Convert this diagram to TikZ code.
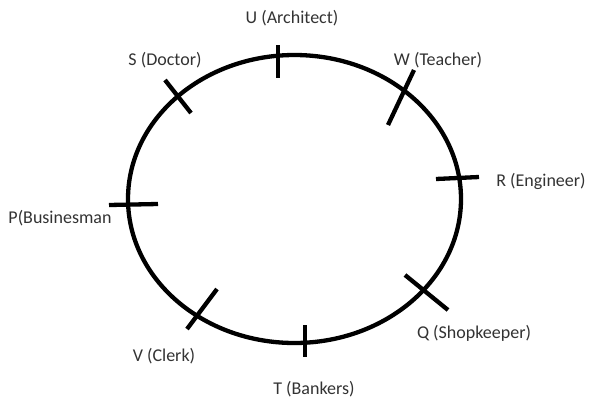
\documentclass[tikz,border=0pt]{standalone}
\usepackage{fontspec}
\setmainfont{Carlito}
\begin{document}
\begin{tikzpicture}[x=1pt,y=-1pt,
  ring/.style={line width=4.3pt},
  tick/.style={line width=4.3pt},
  lbl/.style={font=\fontsize{18}{20}\selectfont, text=black!80, inner sep=0pt}]
\useasboundingbox[fill=white] (0,0) rectangle (589,400);
\draw[ring] (294.5,199) ellipse [x radius=166.5, y radius=144];
% ticks
\draw[tick] (278,45) -- (278,78);
\draw[tick] (165,80) -- (191,113);
\draw[tick] (414,70) -- (388,125);
\draw[tick] (436,179) -- (479,177);
\draw[tick] (405,275) -- (448,310);
\draw[tick] (305,325) -- (305,357);
\draw[tick] (217,289) -- (187,329);
\draw[tick] (109,205) -- (158,204);
% labels
\node[lbl] (u) at (292,18) {U (Architect)};
\node[lbl] (s) at (165,60) {S (Doctor)};
\node[lbl] (w) at (438,60) {W (Teacher)};
\node[lbl] (r) at (541,181) {R (Engineer)};
\node[lbl] (p) at (60,218) {P(Businesman};
\node[lbl] (q) at (474,333) {Q (Shopkeeper)};
\node[lbl] (v) at (164,356) {V (Clerk)};
\node[lbl] (t) at (314,389) {T (Bankers)};
\end{tikzpicture}
\end{document}
